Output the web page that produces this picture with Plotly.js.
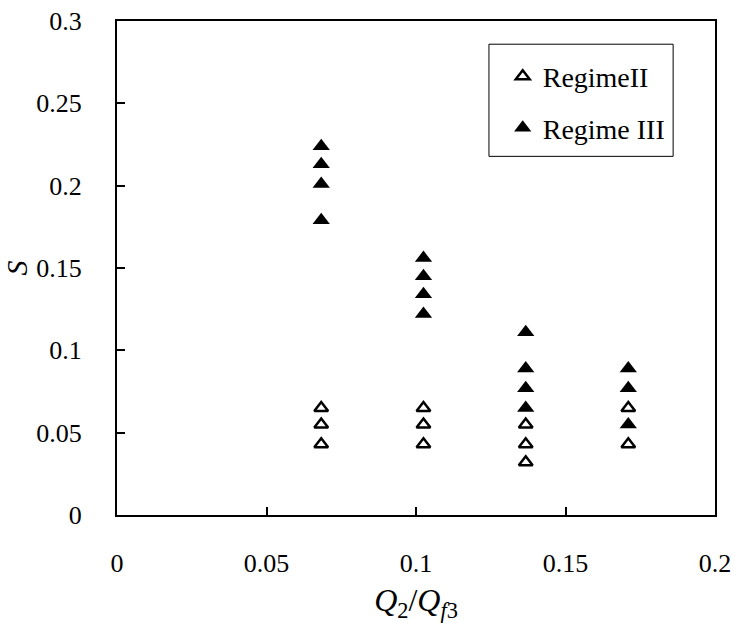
<!DOCTYPE html>
<html>
<head>
<meta charset="utf-8">
<script src="https://cdn.plot.ly/plotly-3.0.1.min.js"></script>
<style>html,body{margin:0;padding:0;background:#fff;}#chart{width:742px;height:623px;}</style>
</head>
<body>
<div id="chart"></div>
<script>
// Data
var regime2X = [0.0683, 0.0683, 0.0683, 0.1025, 0.1025, 0.1025, 0.1367, 0.1367, 0.1367, 0.171, 0.171];
var regime2Y = [0.065, 0.055, 0.043, 0.065, 0.055, 0.043, 0.055, 0.043, 0.032, 0.065, 0.043];
var regime3X = [0.0683, 0.0683, 0.0683, 0.0683, 0.1025, 0.1025, 0.1025, 0.1025, 0.1367, 0.1367, 0.1367, 0.1367, 0.171, 0.171, 0.171];
var regime3Y = [0.224, 0.213, 0.201, 0.179, 0.156, 0.145, 0.134, 0.122, 0.111, 0.089, 0.077, 0.065, 0.089, 0.077, 0.055];
var xTicks = [0, 0.05, 0.1, 0.15, 0.2];
var xTickText = ['0', '0.05', '0.1', '0.15', '0.2'];
var yTicks = [0, 0.05, 0.1, 0.15, 0.2, 0.25, 0.3];
var yTickText = ['0', '0.05', '0.1', '0.15', '0.2', '0.25', '0.3'];
var seriesNames = ['RegimeII', 'Regime III'];

var serif = 'Liberation Serif, serif';

var traces = [
  {
    x: regime2X, y: regime2Y, name: seriesNames[0], type: 'scatter', mode: 'markers',
    legendgroup: 'a',
    marker: {symbol: 'triangle-up-open', size: 12, color: '#000', line: {width: 2.5, color: '#000'}}
  },
  {
    x: regime3X, y: regime3Y, name: seriesNames[1], type: 'scatter', mode: 'markers',
    legendgroup: 'b',
    marker: {symbol: 'triangle-up', size: 15, color: '#000', line: {width: 0}}
  }
];

var axisCommon = {
  showgrid: false, zeroline: false, showline: true, linecolor: '#000', linewidth: 2,
  mirror: true, ticks: 'inside', ticklen: 8, tickwidth: 2, tickcolor: '#000',
  tickfont: {family: serif, size: 26, color: '#000'}
};

var layout = {
  width: 742, height: 623,
  paper_bgcolor: '#fff', plot_bgcolor: '#fff',
  margin: {l: 117, r: 27, t: 21, b: 108},
  showlegend: true,
  xaxis: Object.assign({}, axisCommon, {
    range: [0, 0.2], tickvals: xTicks, ticktext: xTickText, ticklabelstandoff: 24,
    title: {text: '<i>Q</i><sub>2</sub>/<i>Q</i><sub><i>f</i>3</sub>', font: {family: serif, size: 32, color: '#000'}, standoff: 18}
  }),
  yaxis: Object.assign({}, axisCommon, {
    range: [0, 0.3], tickvals: yTicks, ticktext: yTickText, ticklabelstandoff: 28,
    title: {text: '<i>S</i>', font: {family: serif, size: 30, color: '#000'}, standoff: 0}
  }),
  legend: {
    x: 0.645, y: 0.938, xanchor: 'left', yanchor: 'top',
    bgcolor: 'rgba(0,0,0,0)', borderwidth: 0,
    font: {family: serif, size: 28, color: '#000'},
    traceorder: 'grouped', tracegroupgap: 12,
    itemwidth: 30
  },
  shapes: [{
    type: 'rect', xref: 'paper', yref: 'paper',
    x0: 0.622, x1: 0.93, y0: 0.726, y1: 0.953,
    line: {color: '#000', width: 1}, fillcolor: 'rgba(0,0,0,0)', layer: 'below'
  }]
};

Plotly.newPlot('chart', traces, layout, {displayModeBar: false, staticPlot: true});
</script>
</body>
</html>
